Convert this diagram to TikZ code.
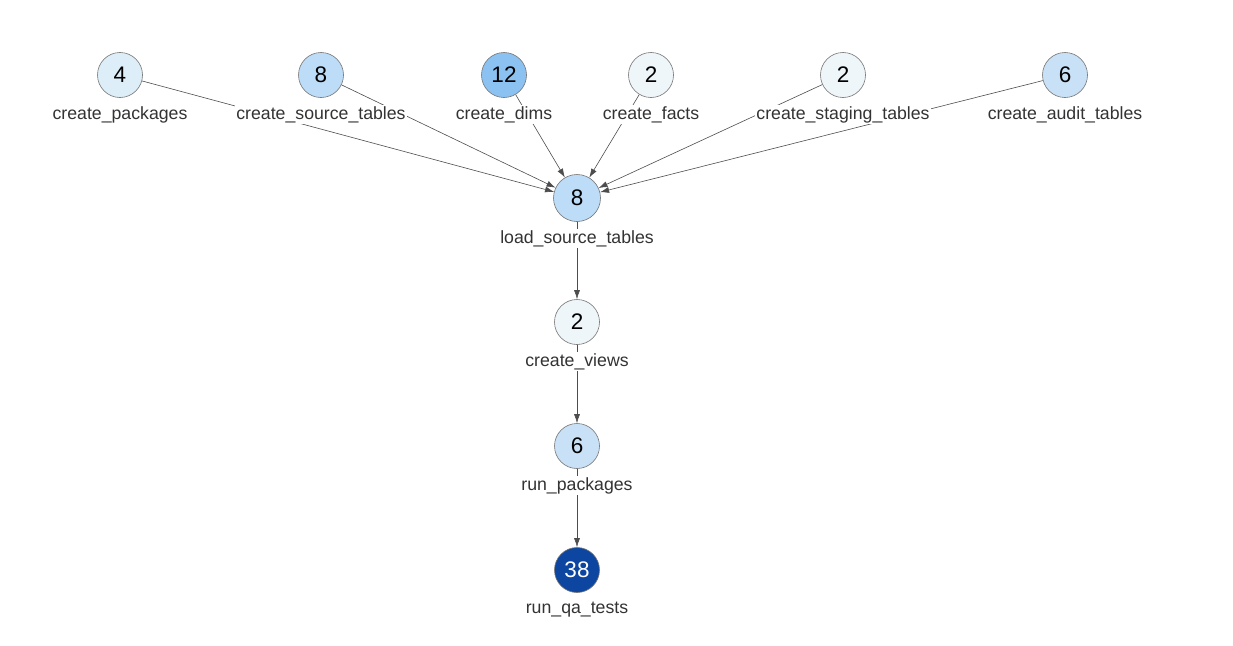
\documentclass[tikz,border=0pt]{standalone}
\usepackage{fontspec}
\setmainfont{Liberation Sans}
\usepackage{xcolor}
\usetikzlibrary{positioning,arrows.meta}

\definecolor{ctwo}{HTML}{EFF6F9}
\definecolor{cfour}{HTML}{DEEEF8}
\definecolor{csix}{HTML}{C9E1F6}
\definecolor{ceight}{HTML}{BDDCF8}
\definecolor{ctwelve}{HTML}{8CC2F1}
\definecolor{cthirtyeight}{HTML}{0C46A0}
\definecolor{edgegray}{HTML}{4D4D4D}

\pgfdeclarelayer{background}
\pgfsetlayers{background,main}

\tikzset{
    job/.style={circle, draw=black!55, line width=0.6pt, minimum size=45pt, inner sep=0pt, font=\fontsize{22.5}{22.5}\selectfont},
    jobname/.style={fill=white, inner sep=1.5pt, text=black!80, font=\fontsize{17.7}{17.7}\selectfont},
    dep/.style={draw=edgegray, line width=0.6pt, -{Latex[length=9pt,width=6pt]}}
}

\begin{document}
\begin{tikzpicture}[x=1pt,y=-1pt]
    \useasboundingbox (0,0) rectangle (1233,645);

    % top row
    \node[job, fill=cfour] (packages) at (120,75) {4};
    \node[job, fill=ceight] (source) at (321,75) {8};
    \node[job, fill=ctwelve] (dims) at (504,75) {12};
    \node[job, fill=ctwo] (facts) at (651,75) {2};
    \node[job, fill=ctwo] (staging) at (843,75) {2};
    \node[job, fill=csix] (audit) at (1065,75) {6};

    % chain
    \node[job, fill=ceight, minimum height=47pt] (load) at (577,198) {8};
    \node[job, fill=ctwo] (views) at (577,322) {2};
    \node[job, fill=csix] (run) at (577,446) {6};
    \node[job, fill=cthirtyeight, text=white] (qa) at (577,570) {38};

    % labels
    \node[jobname] (packages-l) at (120,114.5) {create\_packages};
    \node[jobname] (source-l) at (321,114.5) {create\_source\_tables};
    \node[jobname] (dims-l) at (504,114.5) {create\_dims};
    \node[jobname] (facts-l) at (651,114.5) {create\_facts};
    \node[jobname] (staging-l) at (843,114.5) {create\_staging\_tables};
    \node[jobname] (audit-l) at (1065,114.5) {create\_audit\_tables};
    \node[jobname] (load-l) at (577,238.5) {load\_source\_tables};
    \node[jobname] (views-l) at (577,361.5) {create\_views};
    \node[jobname] (run-l) at (577,485.5) {run\_packages};
    \node[jobname] (qa-l) at (577,609.5) {run\_qa\_tests};

    \begin{pgfonlayer}{background}
        \foreach \src in {packages,source,dims,facts,staging,audit}
            \draw[dep] (\src) -- (load);
        \draw[dep] (load) -- (views);
        \draw[dep] (views) -- (run);
        \draw[dep] (run) -- (qa);
    \end{pgfonlayer}
\end{tikzpicture}
\end{document}
